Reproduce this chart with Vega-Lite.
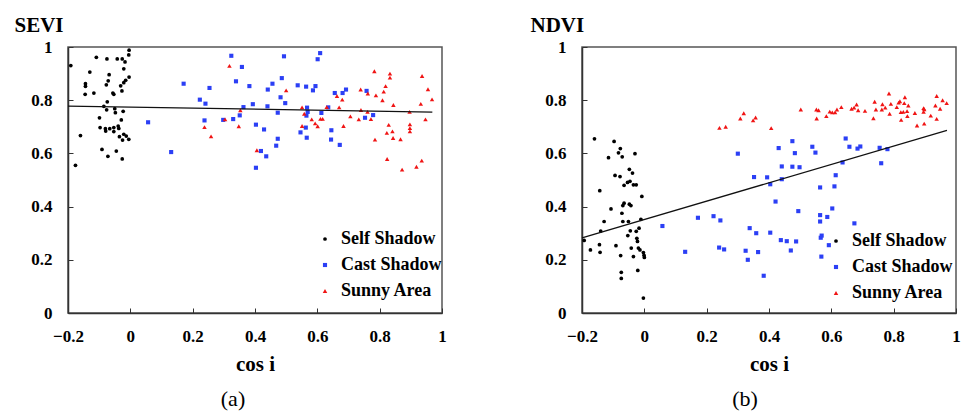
{
  "$schema": "https://vega.github.io/schema/vega-lite/v6.json",
  "padding": {"left": 13, "top": 13, "right": 5, "bottom": 2},
  "background": "white",
  "bounds": "flush",
  "spacing": 140,
  "config": {
    "font": "Liberation Serif",
    "view": {"stroke": "#555", "strokeWidth": 1.5},
    "axis": {
      "grid": false,
      "labelFont": "Liberation Serif", "labelFontWeight": "bold", "labelFontSize": 17, "labelColor": "black",
      "titleFont": "Liberation Serif", "titleFontWeight": "bold", "titleColor": "black", "titleFontSize": 21,
      "domainColor": "#333", "domainWidth": 1.5, "tickColor": "#333", "tickSize": -5, "tickWidth": 1
    },
    "legend": {
      "labelFont": "Liberation Serif", "labelFontWeight": "bold", "labelFontSize": 18, "labelColor": "black",
      "symbolSize": 14, "rowPadding": 8, "labelOffset": 7, "padding": 0
    },
    "title": {"font": "Liberation Serif", "fontSize": 22, "fontWeight": "normal", "color": "black"}
  },
  "datasets": {
    "pts": [
      {"panel":"SEVI","group":"Self Shadow","x":-0.191,"y":0.93},
      {"panel":"SEVI","group":"Self Shadow","x":-0.109,"y":0.961},
      {"panel":"SEVI","group":"Self Shadow","x":-0.075,"y":0.955},
      {"panel":"SEVI","group":"Self Shadow","x":-0.042,"y":0.955},
      {"panel":"SEVI","group":"Self Shadow","x":-0.026,"y":0.955},
      {"panel":"SEVI","group":"Self Shadow","x":-0.004,"y":0.988},
      {"panel":"SEVI","group":"Self Shadow","x":-0.005,"y":0.97},
      {"panel":"SEVI","group":"Self Shadow","x":-0.017,"y":0.944},
      {"panel":"SEVI","group":"Self Shadow","x":-0.13,"y":0.906},
      {"panel":"SEVI","group":"Self Shadow","x":-0.068,"y":0.896},
      {"panel":"SEVI","group":"Self Shadow","x":-0.004,"y":0.887},
      {"panel":"SEVI","group":"Self Shadow","x":-0.021,"y":0.918},
      {"panel":"SEVI","group":"Self Shadow","x":-0.071,"y":0.873},
      {"panel":"SEVI","group":"Self Shadow","x":-0.077,"y":0.858},
      {"panel":"SEVI","group":"Self Shadow","x":-0.144,"y":0.862},
      {"panel":"SEVI","group":"Self Shadow","x":-0.144,"y":0.852},
      {"panel":"SEVI","group":"Self Shadow","x":-0.015,"y":0.875},
      {"panel":"SEVI","group":"Self Shadow","x":-0.021,"y":0.866},
      {"panel":"SEVI","group":"Self Shadow","x":-0.031,"y":0.854},
      {"panel":"SEVI","group":"Self Shadow","x":-0.145,"y":0.822},
      {"panel":"SEVI","group":"Self Shadow","x":-0.117,"y":0.827},
      {"panel":"SEVI","group":"Self Shadow","x":-0.056,"y":0.827},
      {"panel":"SEVI","group":"Self Shadow","x":-0.053,"y":0.822},
      {"panel":"SEVI","group":"Self Shadow","x":-0.027,"y":0.835},
      {"panel":"SEVI","group":"Self Shadow","x":-0.074,"y":0.794},
      {"panel":"SEVI","group":"Self Shadow","x":-0.085,"y":0.777},
      {"panel":"SEVI","group":"Self Shadow","x":-0.076,"y":0.764},
      {"panel":"SEVI","group":"Self Shadow","x":-0.05,"y":0.768},
      {"panel":"SEVI","group":"Self Shadow","x":-0.048,"y":0.753},
      {"panel":"SEVI","group":"Self Shadow","x":-0.023,"y":0.758},
      {"panel":"SEVI","group":"Self Shadow","x":-0.099,"y":0.734},
      {"panel":"SEVI","group":"Self Shadow","x":-0.029,"y":0.726},
      {"panel":"SEVI","group":"Self Shadow","x":-0.097,"y":0.697},
      {"panel":"SEVI","group":"Self Shadow","x":-0.08,"y":0.693},
      {"panel":"SEVI","group":"Self Shadow","x":-0.066,"y":0.693},
      {"panel":"SEVI","group":"Self Shadow","x":-0.053,"y":0.697},
      {"panel":"SEVI","group":"Self Shadow","x":-0.039,"y":0.703},
      {"panel":"SEVI","group":"Self Shadow","x":-0.037,"y":0.694},
      {"panel":"SEVI","group":"Self Shadow","x":-0.079,"y":0.684},
      {"panel":"SEVI","group":"Self Shadow","x":-0.053,"y":0.682},
      {"panel":"SEVI","group":"Self Shadow","x":-0.021,"y":0.672},
      {"panel":"SEVI","group":"Self Shadow","x":-0.013,"y":0.665},
      {"panel":"SEVI","group":"Self Shadow","x":-0.035,"y":0.663},
      {"panel":"SEVI","group":"Self Shadow","x":-0.005,"y":0.653},
      {"panel":"SEVI","group":"Self Shadow","x":-0.025,"y":0.65},
      {"panel":"SEVI","group":"Self Shadow","x":-0.16,"y":0.667},
      {"panel":"SEVI","group":"Self Shadow","x":-0.091,"y":0.615},
      {"panel":"SEVI","group":"Self Shadow","x":-0.045,"y":0.609},
      {"panel":"SEVI","group":"Self Shadow","x":-0.072,"y":0.589},
      {"panel":"SEVI","group":"Self Shadow","x":-0.026,"y":0.579},
      {"panel":"SEVI","group":"Self Shadow","x":-0.176,"y":0.555},
      {"panel":"SEVI","group":"Cast Shadow","x":0.324,"y":0.967},
      {"panel":"SEVI","group":"Cast Shadow","x":0.358,"y":0.925},
      {"panel":"SEVI","group":"Cast Shadow","x":0.339,"y":0.871},
      {"panel":"SEVI","group":"Cast Shadow","x":0.382,"y":0.853},
      {"panel":"SEVI","group":"Cast Shadow","x":0.171,"y":0.862},
      {"panel":"SEVI","group":"Cast Shadow","x":0.254,"y":0.846},
      {"panel":"SEVI","group":"Cast Shadow","x":0.223,"y":0.802},
      {"panel":"SEVI","group":"Cast Shadow","x":0.241,"y":0.787},
      {"panel":"SEVI","group":"Cast Shadow","x":0.363,"y":0.774},
      {"panel":"SEVI","group":"Cast Shadow","x":0.393,"y":0.785},
      {"panel":"SEVI","group":"Cast Shadow","x":0.351,"y":0.743},
      {"panel":"SEVI","group":"Cast Shadow","x":0.33,"y":0.729},
      {"panel":"SEVI","group":"Cast Shadow","x":0.298,"y":0.726},
      {"panel":"SEVI","group":"Cast Shadow","x":0.238,"y":0.724},
      {"panel":"SEVI","group":"Cast Shadow","x":0.403,"y":0.708},
      {"panel":"SEVI","group":"Cast Shadow","x":0.057,"y":0.717},
      {"panel":"SEVI","group":"Cast Shadow","x":0.131,"y":0.605},
      {"panel":"SEVI","group":"Cast Shadow","x":0.403,"y":0.546},
      {"panel":"SEVI","group":"Cast Shadow","x":0.493,"y":0.965},
      {"panel":"SEVI","group":"Cast Shadow","x":0.609,"y":0.977},
      {"panel":"SEVI","group":"Cast Shadow","x":0.601,"y":0.954},
      {"panel":"SEVI","group":"Cast Shadow","x":0.486,"y":0.883},
      {"panel":"SEVI","group":"Cast Shadow","x":0.456,"y":0.862},
      {"panel":"SEVI","group":"Cast Shadow","x":0.441,"y":0.84},
      {"panel":"SEVI","group":"Cast Shadow","x":0.537,"y":0.856},
      {"panel":"SEVI","group":"Cast Shadow","x":0.564,"y":0.851},
      {"panel":"SEVI","group":"Cast Shadow","x":0.594,"y":0.853},
      {"panel":"SEVI","group":"Cast Shadow","x":0.586,"y":0.837},
      {"panel":"SEVI","group":"Cast Shadow","x":0.482,"y":0.811},
      {"panel":"SEVI","group":"Cast Shadow","x":0.497,"y":0.789},
      {"panel":"SEVI","group":"Cast Shadow","x":0.44,"y":0.777},
      {"panel":"SEVI","group":"Cast Shadow","x":0.656,"y":0.827},
      {"panel":"SEVI","group":"Cast Shadow","x":0.681,"y":0.827},
      {"panel":"SEVI","group":"Cast Shadow","x":0.692,"y":0.84},
      {"panel":"SEVI","group":"Cast Shadow","x":0.758,"y":0.835},
      {"panel":"SEVI","group":"Cast Shadow","x":0.567,"y":0.772},
      {"panel":"SEVI","group":"Cast Shadow","x":0.569,"y":0.756},
      {"panel":"SEVI","group":"Cast Shadow","x":0.565,"y":0.742},
      {"panel":"SEVI","group":"Cast Shadow","x":0.473,"y":0.753},
      {"panel":"SEVI","group":"Cast Shadow","x":0.613,"y":0.752},
      {"panel":"SEVI","group":"Cast Shadow","x":0.635,"y":0.773},
      {"panel":"SEVI","group":"Cast Shadow","x":0.779,"y":0.744},
      {"panel":"SEVI","group":"Cast Shadow","x":0.753,"y":0.734},
      {"panel":"SEVI","group":"Cast Shadow","x":0.429,"y":0.69},
      {"panel":"SEVI","group":"Cast Shadow","x":0.563,"y":0.697},
      {"panel":"SEVI","group":"Cast Shadow","x":0.546,"y":0.679},
      {"panel":"SEVI","group":"Cast Shadow","x":0.566,"y":0.659},
      {"panel":"SEVI","group":"Cast Shadow","x":0.645,"y":0.687},
      {"panel":"SEVI","group":"Cast Shadow","x":0.644,"y":0.652},
      {"panel":"SEVI","group":"Cast Shadow","x":0.672,"y":0.632},
      {"panel":"SEVI","group":"Cast Shadow","x":0.473,"y":0.655},
      {"panel":"SEVI","group":"Cast Shadow","x":0.468,"y":0.629},
      {"panel":"SEVI","group":"Cast Shadow","x":0.419,"y":0.609},
      {"panel":"SEVI","group":"Cast Shadow","x":0.436,"y":0.589},
      {"panel":"SEVI","group":"Sunny Area","x":0.318,"y":0.929},
      {"panel":"SEVI","group":"Sunny Area","x":0.353,"y":0.762},
      {"panel":"SEVI","group":"Sunny Area","x":0.304,"y":0.728},
      {"panel":"SEVI","group":"Sunny Area","x":0.238,"y":0.699},
      {"panel":"SEVI","group":"Sunny Area","x":0.348,"y":0.702},
      {"panel":"SEVI","group":"Sunny Area","x":0.259,"y":0.664},
      {"panel":"SEVI","group":"Sunny Area","x":0.406,"y":0.612},
      {"panel":"SEVI","group":"Sunny Area","x":0.5,"y":0.837},
      {"panel":"SEVI","group":"Sunny Area","x":0.551,"y":0.773},
      {"panel":"SEVI","group":"Sunny Area","x":0.558,"y":0.749},
      {"panel":"SEVI","group":"Sunny Area","x":0.582,"y":0.728},
      {"panel":"SEVI","group":"Sunny Area","x":0.593,"y":0.713},
      {"panel":"SEVI","group":"Sunny Area","x":0.601,"y":0.702},
      {"panel":"SEVI","group":"Sunny Area","x":0.61,"y":0.73},
      {"panel":"SEVI","group":"Sunny Area","x":0.617,"y":0.73},
      {"panel":"SEVI","group":"Sunny Area","x":0.551,"y":0.703},
      {"panel":"SEVI","group":"Sunny Area","x":0.63,"y":0.774},
      {"panel":"SEVI","group":"Sunny Area","x":0.67,"y":0.773},
      {"panel":"SEVI","group":"Sunny Area","x":0.663,"y":0.816},
      {"panel":"SEVI","group":"Sunny Area","x":0.68,"y":0.802},
      {"panel":"SEVI","group":"Sunny Area","x":0.706,"y":0.739},
      {"panel":"SEVI","group":"Sunny Area","x":0.684,"y":0.703},
      {"panel":"SEVI","group":"Sunny Area","x":0.733,"y":0.728},
      {"panel":"SEVI","group":"Sunny Area","x":0.739,"y":0.84},
      {"panel":"SEVI","group":"Sunny Area","x":0.74,"y":0.763},
      {"panel":"SEVI","group":"Sunny Area","x":0.762,"y":0.825},
      {"panel":"SEVI","group":"Sunny Area","x":0.761,"y":0.756},
      {"panel":"SEVI","group":"Sunny Area","x":0.772,"y":0.729},
      {"panel":"SEVI","group":"Sunny Area","x":0.783,"y":0.909},
      {"panel":"SEVI","group":"Sunny Area","x":0.788,"y":0.818},
      {"panel":"SEVI","group":"Sunny Area","x":0.809,"y":0.8},
      {"panel":"SEVI","group":"Sunny Area","x":0.813,"y":0.832},
      {"panel":"SEVI","group":"Sunny Area","x":0.819,"y":0.853},
      {"panel":"SEVI","group":"Sunny Area","x":0.833,"y":0.9},
      {"panel":"SEVI","group":"Sunny Area","x":0.833,"y":0.885},
      {"panel":"SEVI","group":"Sunny Area","x":0.844,"y":0.782},
      {"panel":"SEVI","group":"Sunny Area","x":0.829,"y":0.707},
      {"panel":"SEVI","group":"Sunny Area","x":0.823,"y":0.677},
      {"panel":"SEVI","group":"Sunny Area","x":0.841,"y":0.683},
      {"panel":"SEVI","group":"Sunny Area","x":0.843,"y":0.658},
      {"panel":"SEVI","group":"Sunny Area","x":0.785,"y":0.652},
      {"panel":"SEVI","group":"Sunny Area","x":0.867,"y":0.653},
      {"panel":"SEVI","group":"Sunny Area","x":0.896,"y":0.756},
      {"panel":"SEVI","group":"Sunny Area","x":0.897,"y":0.709},
      {"panel":"SEVI","group":"Sunny Area","x":0.897,"y":0.695},
      {"panel":"SEVI","group":"Sunny Area","x":0.897,"y":0.683},
      {"panel":"SEVI","group":"Sunny Area","x":0.936,"y":0.891},
      {"panel":"SEVI","group":"Sunny Area","x":0.955,"y":0.841},
      {"panel":"SEVI","group":"Sunny Area","x":0.968,"y":0.803},
      {"panel":"SEVI","group":"Sunny Area","x":0.932,"y":0.786},
      {"panel":"SEVI","group":"Sunny Area","x":0.947,"y":0.728},
      {"panel":"SEVI","group":"Sunny Area","x":0.824,"y":0.579},
      {"panel":"SEVI","group":"Sunny Area","x":0.872,"y":0.539},
      {"panel":"SEVI","group":"Sunny Area","x":0.918,"y":0.55},
      {"panel":"SEVI","group":"Sunny Area","x":0.935,"y":0.573},
      {"panel":"NDVI","group":"Self Shadow","x":-0.16,"y":0.655},
      {"panel":"NDVI","group":"Self Shadow","x":-0.097,"y":0.645},
      {"panel":"NDVI","group":"Self Shadow","x":-0.077,"y":0.618},
      {"panel":"NDVI","group":"Self Shadow","x":-0.115,"y":0.584},
      {"panel":"NDVI","group":"Self Shadow","x":-0.083,"y":0.602},
      {"panel":"NDVI","group":"Self Shadow","x":-0.071,"y":0.587},
      {"panel":"NDVI","group":"Self Shadow","x":-0.03,"y":0.599},
      {"panel":"NDVI","group":"Self Shadow","x":-0.094,"y":0.517},
      {"panel":"NDVI","group":"Self Shadow","x":-0.078,"y":0.513},
      {"panel":"NDVI","group":"Self Shadow","x":-0.048,"y":0.54},
      {"panel":"NDVI","group":"Self Shadow","x":-0.038,"y":0.526},
      {"panel":"NDVI","group":"Self Shadow","x":-0.143,"y":0.46},
      {"panel":"NDVI","group":"Self Shadow","x":-0.065,"y":0.48},
      {"panel":"NDVI","group":"Self Shadow","x":-0.054,"y":0.491},
      {"panel":"NDVI","group":"Self Shadow","x":-0.046,"y":0.495},
      {"panel":"NDVI","group":"Self Shadow","x":-0.035,"y":0.482},
      {"panel":"NDVI","group":"Self Shadow","x":-0.026,"y":0.482},
      {"panel":"NDVI","group":"Self Shadow","x":-0.008,"y":0.438},
      {"panel":"NDVI","group":"Self Shadow","x":-0.107,"y":0.391},
      {"panel":"NDVI","group":"Self Shadow","x":-0.065,"y":0.413},
      {"panel":"NDVI","group":"Self Shadow","x":-0.069,"y":0.404},
      {"panel":"NDVI","group":"Self Shadow","x":-0.048,"y":0.409},
      {"panel":"NDVI","group":"Self Shadow","x":-0.043,"y":0.404},
      {"panel":"NDVI","group":"Self Shadow","x":-0.072,"y":0.375},
      {"panel":"NDVI","group":"Self Shadow","x":-0.129,"y":0.344},
      {"panel":"NDVI","group":"Self Shadow","x":-0.069,"y":0.344},
      {"panel":"NDVI","group":"Self Shadow","x":-0.051,"y":0.344},
      {"panel":"NDVI","group":"Self Shadow","x":-0.011,"y":0.352},
      {"panel":"NDVI","group":"Self Shadow","x":-0.14,"y":0.308},
      {"panel":"NDVI","group":"Self Shadow","x":-0.045,"y":0.309},
      {"panel":"NDVI","group":"Self Shadow","x":-0.026,"y":0.307},
      {"panel":"NDVI","group":"Self Shadow","x":-0.017,"y":0.319},
      {"panel":"NDVI","group":"Self Shadow","x":-0.053,"y":0.291},
      {"panel":"NDVI","group":"Self Shadow","x":-0.024,"y":0.281},
      {"panel":"NDVI","group":"Self Shadow","x":-0.022,"y":0.269},
      {"panel":"NDVI","group":"Self Shadow","x":-0.193,"y":0.273},
      {"panel":"NDVI","group":"Self Shadow","x":-0.173,"y":0.237},
      {"panel":"NDVI","group":"Self Shadow","x":-0.144,"y":0.257},
      {"panel":"NDVI","group":"Self Shadow","x":-0.142,"y":0.228},
      {"panel":"NDVI","group":"Self Shadow","x":-0.091,"y":0.253},
      {"panel":"NDVI","group":"Self Shadow","x":-0.042,"y":0.244},
      {"panel":"NDVI","group":"Self Shadow","x":-0.019,"y":0.244},
      {"panel":"NDVI","group":"Self Shadow","x":-0.014,"y":0.237},
      {"panel":"NDVI","group":"Self Shadow","x":-0.003,"y":0.227},
      {"panel":"NDVI","group":"Self Shadow","x":-0.001,"y":0.217},
      {"panel":"NDVI","group":"Self Shadow","x":0.0,"y":0.209},
      {"panel":"NDVI","group":"Self Shadow","x":-0.076,"y":0.216},
      {"panel":"NDVI","group":"Self Shadow","x":-0.035,"y":0.212},
      {"panel":"NDVI","group":"Self Shadow","x":-0.074,"y":0.153},
      {"panel":"NDVI","group":"Self Shadow","x":-0.074,"y":0.13},
      {"panel":"NDVI","group":"Self Shadow","x":-0.021,"y":0.16},
      {"panel":"NDVI","group":"Self Shadow","x":-0.003,"y":0.056},
      {"panel":"NDVI","group":"Cast Shadow","x":0.058,"y":0.327},
      {"panel":"NDVI","group":"Cast Shadow","x":0.131,"y":0.23},
      {"panel":"NDVI","group":"Cast Shadow","x":0.172,"y":0.358},
      {"panel":"NDVI","group":"Cast Shadow","x":0.222,"y":0.364},
      {"panel":"NDVI","group":"Cast Shadow","x":0.244,"y":0.348},
      {"panel":"NDVI","group":"Cast Shadow","x":0.24,"y":0.246},
      {"panel":"NDVI","group":"Cast Shadow","x":0.256,"y":0.239},
      {"panel":"NDVI","group":"Cast Shadow","x":0.3,"y":0.599},
      {"panel":"NDVI","group":"Cast Shadow","x":0.352,"y":0.511},
      {"panel":"NDVI","group":"Cast Shadow","x":0.394,"y":0.51},
      {"panel":"NDVI","group":"Cast Shadow","x":0.441,"y":0.503},
      {"panel":"NDVI","group":"Cast Shadow","x":0.431,"y":0.62},
      {"panel":"NDVI","group":"Cast Shadow","x":0.475,"y":0.646},
      {"panel":"NDVI","group":"Cast Shadow","x":0.483,"y":0.601},
      {"panel":"NDVI","group":"Cast Shadow","x":0.441,"y":0.551},
      {"panel":"NDVI","group":"Cast Shadow","x":0.475,"y":0.55},
      {"panel":"NDVI","group":"Cast Shadow","x":0.498,"y":0.548},
      {"panel":"NDVI","group":"Cast Shadow","x":0.539,"y":0.625},
      {"panel":"NDVI","group":"Cast Shadow","x":0.549,"y":0.603},
      {"panel":"NDVI","group":"Cast Shadow","x":0.646,"y":0.656},
      {"panel":"NDVI","group":"Cast Shadow","x":0.658,"y":0.625},
      {"panel":"NDVI","group":"Cast Shadow","x":0.684,"y":0.618},
      {"panel":"NDVI","group":"Cast Shadow","x":0.693,"y":0.626},
      {"panel":"NDVI","group":"Cast Shadow","x":0.636,"y":0.566},
      {"panel":"NDVI","group":"Cast Shadow","x":0.614,"y":0.518},
      {"panel":"NDVI","group":"Cast Shadow","x":0.755,"y":0.621},
      {"panel":"NDVI","group":"Cast Shadow","x":0.78,"y":0.616},
      {"panel":"NDVI","group":"Cast Shadow","x":0.76,"y":0.563},
      {"panel":"NDVI","group":"Cast Shadow","x":0.404,"y":0.484},
      {"panel":"NDVI","group":"Cast Shadow","x":0.564,"y":0.472},
      {"panel":"NDVI","group":"Cast Shadow","x":0.61,"y":0.476},
      {"panel":"NDVI","group":"Cast Shadow","x":0.421,"y":0.419},
      {"panel":"NDVI","group":"Cast Shadow","x":0.494,"y":0.383},
      {"panel":"NDVI","group":"Cast Shadow","x":0.603,"y":0.393},
      {"panel":"NDVI","group":"Cast Shadow","x":0.564,"y":0.368},
      {"panel":"NDVI","group":"Cast Shadow","x":0.587,"y":0.361},
      {"panel":"NDVI","group":"Cast Shadow","x":0.564,"y":0.344},
      {"panel":"NDVI","group":"Cast Shadow","x":0.674,"y":0.337},
      {"panel":"NDVI","group":"Cast Shadow","x":0.338,"y":0.319},
      {"panel":"NDVI","group":"Cast Shadow","x":0.359,"y":0.3},
      {"panel":"NDVI","group":"Cast Shadow","x":0.404,"y":0.302},
      {"panel":"NDVI","group":"Cast Shadow","x":0.569,"y":0.291},
      {"panel":"NDVI","group":"Cast Shadow","x":0.566,"y":0.283},
      {"panel":"NDVI","group":"Cast Shadow","x":0.438,"y":0.274},
      {"panel":"NDVI","group":"Cast Shadow","x":0.457,"y":0.27},
      {"panel":"NDVI","group":"Cast Shadow","x":0.487,"y":0.269},
      {"panel":"NDVI","group":"Cast Shadow","x":0.592,"y":0.255},
      {"panel":"NDVI","group":"Cast Shadow","x":0.325,"y":0.234},
      {"panel":"NDVI","group":"Cast Shadow","x":0.365,"y":0.229},
      {"panel":"NDVI","group":"Cast Shadow","x":0.47,"y":0.235},
      {"panel":"NDVI","group":"Cast Shadow","x":0.332,"y":0.2},
      {"panel":"NDVI","group":"Cast Shadow","x":0.568,"y":0.212},
      {"panel":"NDVI","group":"Cast Shadow","x":0.383,"y":0.14},
      {"panel":"NDVI","group":"Sunny Area","x":0.241,"y":0.696},
      {"panel":"NDVI","group":"Sunny Area","x":0.261,"y":0.7},
      {"panel":"NDVI","group":"Sunny Area","x":0.308,"y":0.731},
      {"panel":"NDVI","group":"Sunny Area","x":0.319,"y":0.751},
      {"panel":"NDVI","group":"Sunny Area","x":0.349,"y":0.724},
      {"panel":"NDVI","group":"Sunny Area","x":0.357,"y":0.735},
      {"panel":"NDVI","group":"Sunny Area","x":0.407,"y":0.695},
      {"panel":"NDVI","group":"Sunny Area","x":0.502,"y":0.765},
      {"panel":"NDVI","group":"Sunny Area","x":0.552,"y":0.765},
      {"panel":"NDVI","group":"Sunny Area","x":0.559,"y":0.762},
      {"panel":"NDVI","group":"Sunny Area","x":0.553,"y":0.731},
      {"panel":"NDVI","group":"Sunny Area","x":0.584,"y":0.74},
      {"panel":"NDVI","group":"Sunny Area","x":0.595,"y":0.757},
      {"panel":"NDVI","group":"Sunny Area","x":0.603,"y":0.754},
      {"panel":"NDVI","group":"Sunny Area","x":0.612,"y":0.754},
      {"panel":"NDVI","group":"Sunny Area","x":0.618,"y":0.765},
      {"panel":"NDVI","group":"Sunny Area","x":0.632,"y":0.774},
      {"panel":"NDVI","group":"Sunny Area","x":0.665,"y":0.768},
      {"panel":"NDVI","group":"Sunny Area","x":0.673,"y":0.772},
      {"panel":"NDVI","group":"Sunny Area","x":0.681,"y":0.784},
      {"panel":"NDVI","group":"Sunny Area","x":0.686,"y":0.762},
      {"panel":"NDVI","group":"Sunny Area","x":0.708,"y":0.76},
      {"panel":"NDVI","group":"Sunny Area","x":0.735,"y":0.732},
      {"panel":"NDVI","group":"Sunny Area","x":0.739,"y":0.794},
      {"panel":"NDVI","group":"Sunny Area","x":0.743,"y":0.765},
      {"panel":"NDVI","group":"Sunny Area","x":0.762,"y":0.765},
      {"panel":"NDVI","group":"Sunny Area","x":0.764,"y":0.785},
      {"panel":"NDVI","group":"Sunny Area","x":0.773,"y":0.772},
      {"panel":"NDVI","group":"Sunny Area","x":0.785,"y":0.825},
      {"panel":"NDVI","group":"Sunny Area","x":0.787,"y":0.749},
      {"panel":"NDVI","group":"Sunny Area","x":0.791,"y":0.786},
      {"panel":"NDVI","group":"Sunny Area","x":0.81,"y":0.774},
      {"panel":"NDVI","group":"Sunny Area","x":0.816,"y":0.791},
      {"panel":"NDVI","group":"Sunny Area","x":0.82,"y":0.796},
      {"panel":"NDVI","group":"Sunny Area","x":0.834,"y":0.789},
      {"panel":"NDVI","group":"Sunny Area","x":0.836,"y":0.811},
      {"panel":"NDVI","group":"Sunny Area","x":0.823,"y":0.755},
      {"panel":"NDVI","group":"Sunny Area","x":0.831,"y":0.756},
      {"panel":"NDVI","group":"Sunny Area","x":0.843,"y":0.759},
      {"panel":"NDVI","group":"Sunny Area","x":0.847,"y":0.78},
      {"panel":"NDVI","group":"Sunny Area","x":0.824,"y":0.726},
      {"panel":"NDVI","group":"Sunny Area","x":0.844,"y":0.74},
      {"panel":"NDVI","group":"Sunny Area","x":0.868,"y":0.752},
      {"panel":"NDVI","group":"Sunny Area","x":0.875,"y":0.705},
      {"panel":"NDVI","group":"Sunny Area","x":0.896,"y":0.77},
      {"panel":"NDVI","group":"Sunny Area","x":0.898,"y":0.766},
      {"panel":"NDVI","group":"Sunny Area","x":0.896,"y":0.756},
      {"panel":"NDVI","group":"Sunny Area","x":0.898,"y":0.712},
      {"panel":"NDVI","group":"Sunny Area","x":0.919,"y":0.742},
      {"panel":"NDVI","group":"Sunny Area","x":0.934,"y":0.78},
      {"panel":"NDVI","group":"Sunny Area","x":0.938,"y":0.816},
      {"panel":"NDVI","group":"Sunny Area","x":0.938,"y":0.73},
      {"panel":"NDVI","group":"Sunny Area","x":0.949,"y":0.768},
      {"panel":"NDVI","group":"Sunny Area","x":0.957,"y":0.8},
      {"panel":"NDVI","group":"Sunny Area","x":0.97,"y":0.789}
    ],
    "trend": [
      {"panel":"SEVI","x":-0.2,"y":0.778},
      {"panel":"SEVI","x":0.969,"y":0.755},
      {"panel":"NDVI","x":-0.2,"y":0.282},
      {"panel":"NDVI","x":0.971,"y":0.687}
    ]
  },
  "hconcat": [
    {
      "width": 374, "height": 266,
      "title": {"text": "(a)", "orient": "bottom", "offset": 15, "dx": -22},
      "layer": [
        {
          "data": {"name": "pts"},
          "transform": [{"filter": "datum.panel == 'SEVI'"}],
          "mark": {"type": "point", "filled": true, "opacity": 1},
          "encoding": {
            "x": {"field": "x", "type": "quantitative", "scale": {"domain": [-0.2, 1], "nice": false, "zero": false},
              "axis": {"title": "cos i", "values": [-0.2,-0.1,0,0.1,0.2,0.3,0.4,0.5,0.6,0.7,0.8,0.9,1], "labelExpr": "abs(round(datum.value*10)) % 2 == 0 ? format(datum.value, '.1~f') : ''", "labelPadding": 20, "titlePadding": 9, "labelFlush": false}},
            "y": {"field": "y", "type": "quantitative", "scale": {"domain": [0, 1], "nice": false},
              "axis": {"title": "SEVI", "titleAngle": 0, "titleAlign": "left", "titleBaseline": "alphabetic", "titleX": -54, "titleY": -16,
                "values": [0,0.1,0.2,0.3,0.4,0.5,0.6,0.7,0.8,0.9,1], "labelExpr": "round(datum.value*10) % 2 == 0 ? format(datum.value, '.1~f') : ''", "labelPadding": 21, "labelFlush": false}},
            "color": {"field": "group", "type": "nominal", "scale": {"domain": ["Self Shadow", "Cast Shadow", "Sunny Area"], "range": ["#000000", "#2b3ff5", "#f01414"]},
              "legend": {"title": null, "orient": "none", "legendX": 248, "legendY": 183}},
            "shape": {"field": "group", "type": "nominal", "scale": {"domain": ["Self Shadow", "Cast Shadow", "Sunny Area"], "range": ["circle", "square", "triangle-up"]},
              "legend": {"title": null, "orient": "none", "legendX": 248, "legendY": 183}},
            "size": {"field": "group", "type": "nominal", "scale": {"domain": ["Self Shadow", "Cast Shadow", "Sunny Area"], "range": [14, 20, 22]}, "legend": null}
          }
        },
        {
          "data": {"name": "trend"},
          "transform": [{"filter": "datum.panel == 'SEVI'"}],
          "mark": {"type": "line", "color": "#111", "strokeWidth": 1.3},
          "encoding": {"x": {"field": "x", "type": "quantitative"}, "y": {"field": "y", "type": "quantitative"}}
        }
      ]
    },
    {
      "width": 374, "height": 266,
      "title": {"text": "(b)", "orient": "bottom", "offset": 15, "dx": -24},
      "layer": [
        {
          "data": {"name": "pts"},
          "transform": [{"filter": "datum.panel == 'NDVI'"}],
          "mark": {"type": "point", "filled": true, "opacity": 1},
          "encoding": {
            "x": {"field": "x", "type": "quantitative", "scale": {"domain": [-0.2, 1], "nice": false, "zero": false},
              "axis": {"title": "cos i", "values": [-0.2,-0.1,0,0.1,0.2,0.3,0.4,0.5,0.6,0.7,0.8,0.9,1], "labelExpr": "abs(round(datum.value*10)) % 2 == 0 ? format(datum.value, '.1~f') : ''", "labelPadding": 20, "titlePadding": 9, "labelFlush": false}},
            "y": {"field": "y", "type": "quantitative", "scale": {"domain": [0, 1], "nice": false},
              "axis": {"title": "NDVI", "titleAngle": 0, "titleAlign": "left", "titleBaseline": "alphabetic", "titleX": -52, "titleY": -16,
                "values": [0,0.1,0.2,0.3,0.4,0.5,0.6,0.7,0.8,0.9,1], "labelExpr": "round(datum.value*10) % 2 == 0 ? format(datum.value, '.1~f') : ''", "labelPadding": 21, "labelFlush": false}},
            "color": {"field": "group", "type": "nominal", "scale": {"domain": ["Self Shadow", "Cast Shadow", "Sunny Area"], "range": ["#000000", "#2b3ff5", "#f01414"]},
              "legend": {"title": null, "orient": "none", "legendX": 245, "legendY": 185}},
            "shape": {"field": "group", "type": "nominal", "scale": {"domain": ["Self Shadow", "Cast Shadow", "Sunny Area"], "range": ["circle", "square", "triangle-up"]},
              "legend": {"title": null, "orient": "none", "legendX": 245, "legendY": 185}},
            "size": {"field": "group", "type": "nominal", "scale": {"domain": ["Self Shadow", "Cast Shadow", "Sunny Area"], "range": [14, 20, 22]}, "legend": null}
          }
        },
        {
          "data": {"name": "trend"},
          "transform": [{"filter": "datum.panel == 'NDVI'"}],
          "mark": {"type": "line", "color": "#111", "strokeWidth": 1.3},
          "encoding": {"x": {"field": "x", "type": "quantitative"}, "y": {"field": "y", "type": "quantitative"}}
        }
      ]
    }
  ],
  "resolve": {"scale": {"color": "independent", "shape": "independent", "size": "independent"}, "legend": {"color": "independent", "shape": "independent"}}
}
